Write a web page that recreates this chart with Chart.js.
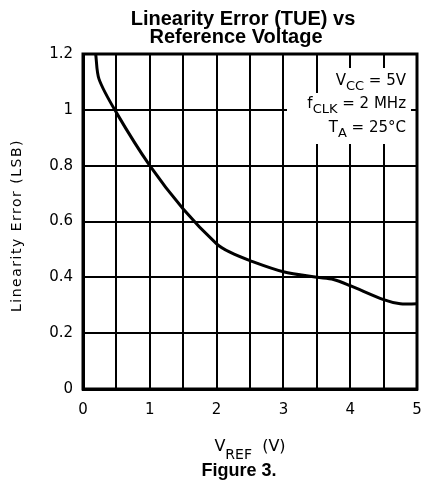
<!DOCTYPE html>
<html>
<head>
<meta charset="utf-8">
<script src="https://cdn.jsdelivr.net/npm/chart.js@4"></script>
<style>
  html, body { margin: 0; padding: 0; background: #fff; }
  #wrap { width: 422px; height: 489px; }
</style>
</head>
<body>
<div id="wrap"><canvas id="chart"></canvas></div>
<script>
// values
const vref = [0.19, 0.24, 0.5, 1.0, 1.5, 2.0, 2.2, 2.5, 3.0, 3.5, 3.75, 4.0, 4.5, 4.75, 5.0];
const linErr = [1.2, 1.11, 0.99, 0.80, 0.645, 0.52, 0.49, 0.46, 0.42, 0.40, 0.392, 0.37, 0.32, 0.305, 0.305];
const titleLines = ["Linearity Error (TUE) vs", "Reference Voltage"];
const yTitle = "Linearity Error (LSB)";
const figLabel = "Figure 3.";

const tickFont = "'DejaVu Sans', sans-serif";
const boldFont = "'Liberation Sans', Arial, sans-serif";

// draws text made of normal + subscript pieces
function drawParts(ctx, parts, x, y, align, size, drop) {
    const subSize = Math.round(size * 0.85);
    let w = 0;
    parts.forEach(p => {
        ctx.font = (p.sub ? subSize : size) + "px " + tickFont;
        w += ctx.measureText(p.t).width;
    });
    let cx = align === "right" ? x - w : align === "center" ? x - w / 2 : x;
    ctx.textAlign = "left";
    ctx.textBaseline = "alphabetic";
    parts.forEach(p => {
        ctx.font = (p.sub ? subSize : size) + "px " + tickFont;
        ctx.fillText(p.t, cx, p.sub ? y + (drop || 5) : y);
        cx += ctx.measureText(p.t).width;
    });
    return w;
}

const textPlugin = {
    id: "texts",
    beforeDatasetsDraw(chart) {
        const ctx = chart.ctx;
        ctx.save();
        // white patches behind the condition text
        ctx.fillStyle = "#fff";
        ctx.fillRect(331, 68, 80, 26);
        ctx.fillRect(287, 93, 124, 26);
        ctx.fillRect(315, 118, 96, 26);
        ctx.fillStyle = "#000";
        drawParts(ctx, [{t: "V"}, {t: "CC", sub: true}, {t: " = 5V"}], 406, 85, "right", 15);
        drawParts(ctx, [{t: "f"}, {t: "CLK", sub: true}, {t: " = 2 MHz"}], 406, 108, "right", 15);
        drawParts(ctx, [{t: "T"}, {t: "A", sub: true}, {t: " = 25°C"}], 406, 132, "right", 15);
        ctx.restore();
    },
    afterDraw(chart) {
        const ctx = chart.ctx;
        const a = chart.chartArea;
        ctx.save();
        ctx.strokeStyle = "#000";
        ctx.lineWidth = 3;
        ctx.strokeRect(a.left, a.top, a.right - a.left, a.bottom - a.top);

        ctx.fillStyle = "#000";
        ctx.textAlign = "center";
        ctx.textBaseline = "alphabetic";
        ctx.font = "bold 20px " + boldFont;
        ctx.fillText(titleLines[0], 243, 25);
        ctx.fillText(titleLines[1], 236, 43);

        // y axis title
        ctx.save();
        ctx.translate(21, (a.top + a.bottom) / 2 + 4);
        ctx.rotate(-Math.PI / 2);
        ctx.font = "14px " + tickFont;
        ctx.letterSpacing = "1.5px";
        ctx.textAlign = "center";
        ctx.fillText(yTitle, 0, 0);
        ctx.restore();

        drawParts(ctx, [{t: "V"}, {t: "REF", sub: true}, {t: "  (V)"}], 250, 451, "center", 16, 8);

        ctx.font = "bold 18px " + boldFont;
        ctx.textAlign = "center";
        ctx.fillText(figLabel, 239, 476);
        ctx.restore();
    }
};

new Chart(document.getElementById("chart"), {
    type: "line",
    data: {
        datasets: [{
            data: vref.map((v, i) => ({x: v, y: linErr[i]})),
            borderColor: "#000",
            borderWidth: 3,
            pointRadius: 0,
            fill: false,
            tension: 0.3
        }]
    },
    options: {
        responsive: true,
        maintainAspectRatio: false,
        animation: false,
        layout: { padding: { left: 0, right: 5, top: 54, bottom: 65 } },
        plugins: { legend: { display: false }, tooltip: { enabled: false } },
        scales: {
            x: {
                type: "linear",
                min: 0, max: 5,
                afterFit: s => { s.height = 35; s.paddingLeft = 0; s.paddingRight = 0; },
                grid: { color: "#000", lineWidth: 2, drawTicks: false },
                border: { color: "#000", width: 3 },
                ticks: {
                    stepSize: 0.5,
                    padding: 12,
                    color: "#000",
                    font: { family: tickFont, size: 15 },
                    maxRotation: 0,
                    autoSkip: false,
                    callback: v => (Number.isInteger(v) ? String(v) : "")
                }
            },
            y: {
                min: 0, max: 1.2,
                afterFit: s => { s.width = 83; s.paddingTop = 0; s.paddingBottom = 0; },
                grid: { color: "#000", lineWidth: 2, drawTicks: false },
                border: { color: "#000", width: 3 },
                ticks: {
                    stepSize: 0.2,
                    padding: 10,
                    color: "#000",
                    font: { family: tickFont, size: 15 },
                    callback: v => String(Math.round(v * 10) / 10)
                }
            }
        }
    },
    plugins: [textPlugin]
});
</script>
</body>
</html>
